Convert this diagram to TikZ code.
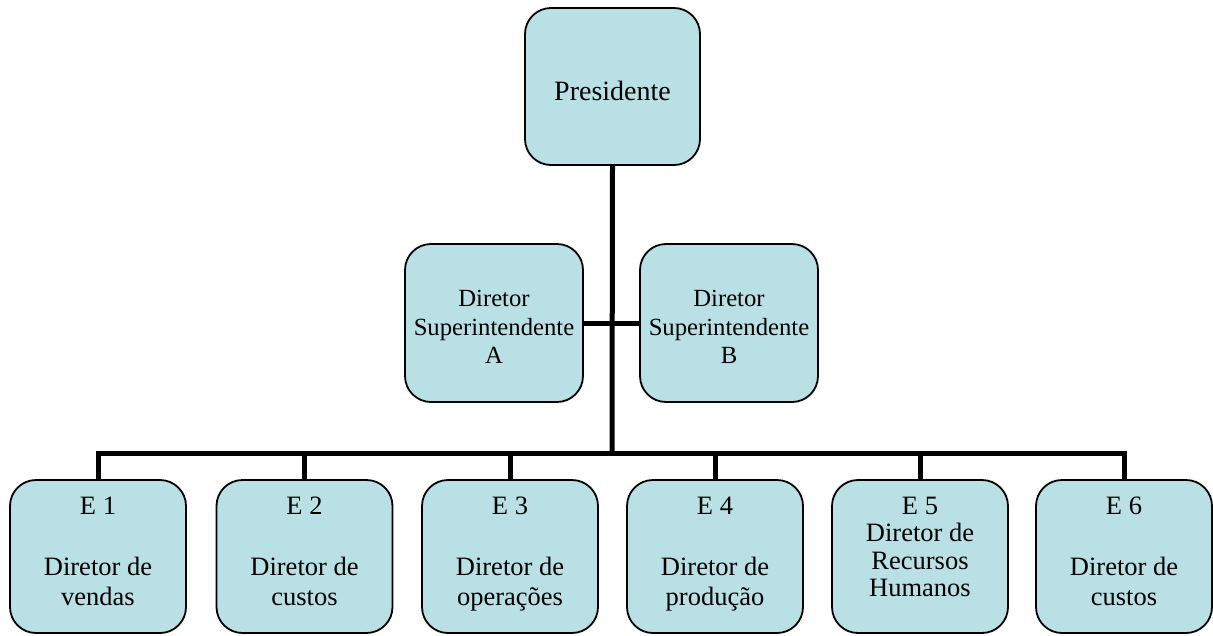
\documentclass[tikz,border=0pt]{standalone}
\usepackage{fontspec}
\setmainfont{Liberation Serif}
\usetikzlibrary{backgrounds}
\definecolor{boxfill}{RGB}{185,224,228}
% text block of fixed height, lines set from the top
\newcommand\boxtxt[2]{\parbox[c][#1][t]{170pt}{\centering\strut#2}}
\tikzset{
  orgbox/.style={draw=black, line width=1.8pt, fill=boxfill, rounded corners=26pt,
    align=center, inner sep=0pt},
  toplevel/.style={orgbox, minimum width=175pt, minimum height=157pt,
    font=\fontsize{28}{32}\selectfont},
  midlevel/.style={orgbox, minimum width=178pt, minimum height=158pt,
    font=\fontsize{24.7}{28.3}\selectfont},
  unitbox/.style={orgbox, minimum width=176pt, minimum height=153pt,
    font=\fontsize{26.5}{30}\selectfont},
  conn/.style={draw=black, line width=5pt}
}
\begin{document}
\begin{tikzpicture}[x=1pt, y=-1pt]
\useasboundingbox (0,0) rectangle (1213,635);

% top
\node[toplevel] (pres) at (612.5,86.5) {\boxtxt{17.8pt}{Presidente}};

% staff directors
\node[midlevel] (supA) at (494,323) {\boxtxt{72.2pt}{Diretor\\Superintendente\\A}};
\node[midlevel] (supB) at (729,323) {\boxtxt{72.2pt}{Diretor\\Superintendente\\B}};

% units
\node[unitbox] (e1) at (98,556.5)   {\boxtxt{126.6pt}{E 1\\[31pt]Diretor de\\vendas}};
\node[unitbox] (e2) at (304.5,556.5){\boxtxt{126.6pt}{E 2\\[31pt]Diretor de\\custos}};
\node[unitbox] (e3) at (510,556.5)  {\boxtxt{126.6pt}{E 3\\[31pt]Diretor de\\operações}};
\node[unitbox] (e4) at (715,556.5)  {\boxtxt{126.6pt}{E 4\\[31pt]Diretor de\\produção}};
\node[unitbox] (e5) at (920,556.5)  {\boxtxt{126.6pt}{\fontsize{26.5}{27.5}\selectfont E 5\\Diretor de\\Recursos\\Humanos}};
\node[unitbox] (e6) at (1124,556.5) {\boxtxt{126.6pt}{E 6\\[31pt]Diretor de\\custos}};

\coordinate (bus) at (612,453);

\begin{scope}[on background layer]
  \draw[conn] (pres.south) -- (bus);
  \draw[conn] (supA.east) -- (supB.west);
  \draw[conn] (e1.north) -- (e1.north |- bus) -- (e6.north |- bus) -- (e6.north);
  \foreach \u in {e2,e3,e4,e5}
    \draw[conn] (\u.north) -- (\u.north |- bus);
\end{scope}
\end{tikzpicture}
\end{document}
